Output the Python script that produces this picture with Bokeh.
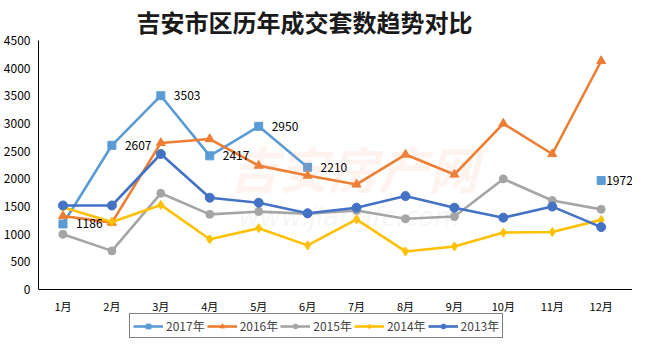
import math
from bokeh.plotting import figure
from bokeh.models import Legend, LegendItem, ColumnDataSource, Label, LabelSet, FixedTicker, Range1d
from bokeh.embed import file_html
from bokeh.resources import INLINE
from bokeh.core.properties import value

months = ["1月", "2月", "3月", "4月", "5月", "6月", "7月", "8月", "9月", "10月", "11月", "12月"]
nan = float("nan")
y2017 = [1186, 2607, 3503, 2417, 2950, 2210, nan, nan, nan, nan, nan, 1972]
y2016 = [1330, 1210, 2650, 2720, 2240, 2060, 1900, 2440, 2080, 3000, 2450, 4130]
y2015 = [1000, 700, 1740, 1360, 1410, 1370, 1430, 1280, 1320, 2000, 1610, 1450]
y2014 = [1490, 1220, 1530, 910, 1110, 800, 1270, 690, 780, 1030, 1040, 1260]
y2013 = [1520, 1520, 2450, 1660, 1570, 1380, 1480, 1690, 1480, 1300, 1500, 1130]
y_ticks = [0, 500, 1000, 1500, 2000, 2500, 3000, 3500, 4000, 4500]
title_text = "吉安市区历年成交套数趋势对比"

FONT = "Noto Sans CJK SC"

# month positions: centre of each month slot on a numeric axis
xs = [i + 0.5 for i in range(len(months))]

# layout: the frame reaches down to the legend strip; the value axis spans 255 px
# of the 305 px frame, the remaining 50 px below zero hold month labels and legend
Y_TOP = y_ticks[-1]
y_low = -Y_TOP * 50 / 255

p = figure(width=632, height=338, x_range=Range1d(0, 12.14), y_range=Range1d(y_low, Y_TOP),
           min_border_left=34, min_border_right=0, min_border_top=33, min_border_bottom=0,
           output_backend="svg", toolbar_location=None, title=title_text)
p.outline_line_color = None
p.xgrid.grid_line_color = None
p.ygrid.grid_line_color = None
p.background_fill_color = "white"
p.border_fill_color = "white"

p.title.text_font = FONT
p.title.text_font_size = "24px"
p.title.text_font_style = "bold"
p.title.text_color = "#1a1a1a"
p.title.align = "left"
p.title.offset = 98
p.title.standoff = 3

for ax in (p.xaxis[0], p.yaxis[0]):
    ax.axis_line_color = "black"
    ax.axis_line_width = 1
    ax.major_tick_out = 0
    ax.major_tick_in = 0
    ax.minor_tick_out = 0
    ax.minor_tick_in = 0
    ax.major_label_text_font = FONT
    ax.major_label_text_color = "black"
p.yaxis[0].major_label_text_font_size = "12px"
p.xaxis[0].major_label_text_font_size = "11px"
p.yaxis[0].ticker = FixedTicker(ticks=y_ticks)
p.yaxis[0].bounds = (0, Y_TOP)
p.xaxis[0].ticker = FixedTicker(ticks=xs)
p.xaxis[0].major_label_overrides = {x: m for x, m in zip(xs, months)}
p.xaxis[0].fixed_location = 0
p.yaxis[0].major_label_standoff = 8
p.xaxis[0].major_label_standoff = 8

# watermark
wm = Label(x=190, y=136, x_units="screen", y_units="screen", text="吉安房产网",
           text_font=FONT, text_font_size="50px", text_font_style="bold italic",
           text_color="#F4A582", text_alpha=0.13)
wm2 = Label(x=200, y=107, x_units="screen", y_units="screen", text="www.jiangfc.com",
            text_font="DejaVu Sans", text_font_size="26px", text_font_style="italic",
            text_color="#999999", text_alpha=0.09)
p.add_layout(wm)
p.add_layout(wm2)

series = [
    ("2017年", y2017, "#5B9BD5", "square", 8),
    ("2016年", y2016, "#ED7D31", "triangle", 9),
    ("2015年", y2015, "#A5A5A5", "circle", 8),
    ("2014年", y2014, "#FFC000", "diamond", 9),
    ("2013年", y2013, "#4472C4", "circle", 9),
]

items = []
for name, ys, color, marker, size in series:
    src = ColumnDataSource(dict(x=xs, y=ys))
    ln = p.line("x", "y", source=src, line_color=color, line_width=2.6)
    sc = p.scatter("x", "y", source=src, marker=marker, size=size, fill_color=color, line_color=color)
    items.append(LegendItem(label=name, renderers=[ln, sc]))

# data labels for 2017
lab_x = [x for x, v in zip(xs, y2017) if not math.isnan(v)]
lab_y = [v for v in y2017 if not math.isnan(v)]
lab_t = [str(v) for v in lab_y]
main_src = ColumnDataSource(dict(x=lab_x[:-1], y=lab_y[:-1], t=lab_t[:-1]))
p.add_layout(LabelSet(x="x", y="y", text="t", source=main_src, x_offset=13, text_baseline="middle",
                      text_font=value(FONT), text_font_size=value("12px"), text_color=value("black")))
end_src = ColumnDataSource(dict(x=lab_x[-1:], y=lab_y[-1:], t=lab_t[-1:]))
p.add_layout(LabelSet(x="x", y="y", text="t", source=end_src, x_offset=5, text_baseline="middle",
                      text_font=value(FONT), text_font_size=value("12px"), text_color=value("black")))

legend = Legend(items=items, orientation="horizontal", location=(91, 0))
legend.label_text_font = FONT
legend.label_text_font_size = "12px"
legend.glyph_width = 30
legend.glyph_height = 12
legend.label_standoff = 3
legend.spacing = 2
legend.padding = 3
legend.margin = 0
legend.border_line_color = "black"
legend.border_line_width = 1
legend.background_fill_alpha = 1
p.add_layout(legend, "center")

open("out.html", "w").write(file_html(p, INLINE))
